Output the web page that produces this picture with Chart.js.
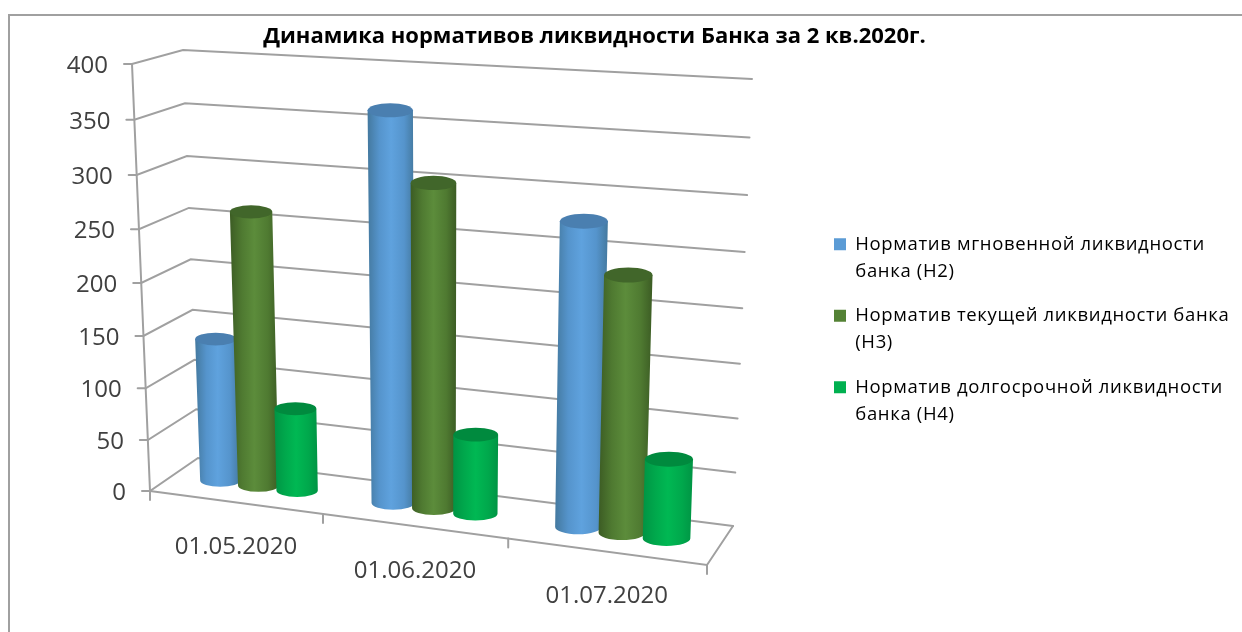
<!DOCTYPE html>
<html>
<head>
<meta charset="utf-8">
<style>
  html, body { margin: 0; background: #fff; }
  #wrap { position: relative; width: 1242px; height: 632px; overflow: hidden; }
  #frame { position: absolute; left: 8px; top: 14px; width: 1240px; height: 630px; border: 2px solid #a0a0a0; }
  canvas { position: absolute; left: 0; top: 0; }
</style>
<script src="https://cdn.jsdelivr.net/npm/chart.js@4/dist/chart.umd.js"></script>
</head>
<body>
<div id="wrap">
  <div id="frame"></div>
  <canvas id="chart" width="1242" height="632"></canvas>
</div>
<script>
  const categories = ["01.05.2020", "01.06.2020", "01.07.2020"];
  const valuesH2 = [139, 364, 278];
  const valuesH3 = [263, 302, 234];
  const valuesH4 = [80, 75, 73];
  const labelH2 = ["Норматив мгновенной ликвидности", "банка (Н2)"];
  const labelH3 = ["Норматив текущей ликвидности банка", "(Н3)"];
  const labelH4 = ["Норматив долгосрочной ликвидности", "банка (Н4)"];
  const titleText = "Динамика нормативов ликвидности Банка за 2 кв.2020г.";

  const fontFamily = "'Open Sans', sans-serif";
  const textColor = "#404040";
  const gridColor = "#a0a0a0";

  // corners of the 3D box as seen on the picture
  const box = {
    backBottomLeft: [198, 458], backTopLeft: [183, 50],
    backBottomRight: [733, 526], backTopRight: [752, 79],
    frontBottomLeft: [150, 491], frontTopLeft: [132, 64],
    frontBottomRight: [707, 565], frontTopRight: [722, 97],
  };
  const perspU = -0.099;
  const perspV = -0.05;

  function lerp(a, b, k) {
    return [a[0] + (b[0] - a[0]) * k, a[1] + (b[1] - a[1]) * k];
  }
  // u: along categories, v: along values, d: 0 = front, 1 = back
  function project(u, v, d) {
    const wu = u * (1 + perspU) / (1 + perspU * u);
    const wv = v * (1 + perspV) / (1 + perspV * v);
    const front = lerp(
      lerp(box.frontBottomLeft, box.frontBottomRight, wu),
      lerp(box.frontTopLeft, box.frontTopRight, wu), wv);
    const back = lerp(
      lerp(box.backBottomLeft, box.backBottomRight, wu),
      lerp(box.backTopLeft, box.backTopRight, wu), wv);
    return lerp(front, back, d);
  }

  function line(ctx, pts, color, width) {
    ctx.beginPath();
    pts.forEach((p, i) => (i ? ctx.lineTo(p[0], p[1]) : ctx.moveTo(p[0], p[1])));
    ctx.strokeStyle = color;
    ctx.lineWidth = width;
    ctx.stroke();
  }

  function drawCylinder(ctx, top, bottom, rxTop, rxBottom, colors) {
    const ryTop = rxTop * 0.31;
    const ryBottom = rxBottom * 0.31;
    const left = Math.min(top[0] - rxTop, bottom[0] - rxBottom);
    const right = Math.max(top[0] + rxTop, bottom[0] + rxBottom);
    const g = ctx.createLinearGradient(left, 0, right, 0);
    g.addColorStop(0, colors.edge);
    g.addColorStop(0.25, colors.side);
    g.addColorStop(0.5, colors.light);
    g.addColorStop(0.78, colors.side);
    g.addColorStop(1, colors.edge);
    ctx.beginPath();
    ctx.moveTo(top[0] - rxTop, top[1]);
    ctx.lineTo(bottom[0] - rxBottom, bottom[1]);
    ctx.ellipse(bottom[0], bottom[1], rxBottom, ryBottom, 0, Math.PI, 0, true);
    ctx.lineTo(top[0] + rxTop, top[1]);
    ctx.closePath();
    ctx.fillStyle = g;
    ctx.fill();
    ctx.beginPath();
    ctx.ellipse(top[0], top[1], rxTop, ryTop, 0, 0, Math.PI * 2);
    ctx.fillStyle = colors.top;
    ctx.fill();
  }

  const palette = [
    { legend: "#5b9bd5", top: "#4a7fb0", edge: "#44799f", side: "#5594cc", light: "#5fa2de" },
    { legend: "#548235", top: "#41662a", edge: "#3c5c24", side: "#4f7a31", light: "#5c8c3b" },
    { legend: "#00b050", top: "#008a3e", edge: "#009444", side: "#00a84c", light: "#00b853" },
  ];

  const box3d = {
    id: "box3d",
    afterLayout(chart) {
      // title and legend sit where the picture has them, not where the layout puts them
      const t = chart.titleBlock;
      t.left = 0;
      t.right = 1189;
      const lg = chart.legend;
      lg.left = 834 - lg.options.labels.padding;
      lg.top = 217.5;
      lg.bottom = 632;
      if (!lg.spaced) {
        // Calibri-like width from Open Sans
        const drawLegend = lg.draw.bind(lg);
        lg.draw = function () {
          chart.ctx.letterSpacing = "0.65px";
          drawLegend();
          chart.ctx.letterSpacing = "0px";
        };
        lg.spaced = true;
      }
    },
    beforeDatasetsDraw(chart) {
      const ctx = chart.ctx;
      const yScale = chart.scales.y;
      const xScale = chart.scales.x;
      ctx.save();
      ctx.lineCap = "round";
      // walls
      yScale.ticks.forEach((tick) => {
        const v = (tick.value - yScale.min) / (yScale.max - yScale.min);
        const a = project(0, v, 0);
        line(ctx, [[a[0] - 8, a[1]], a, project(0, v, 1), project(1, v, 1)], gridColor, 2);
      });
      // floor and axis lines
      line(ctx, [project(0, 0, 0), project(0, 1, 0)], gridColor, 2);
      line(ctx, [project(0, 0, 0), project(1, 0, 0), project(1, 0, 1)], gridColor, 2);
      const n = categories.length;
      for (let i = 0; i <= n; i++) {
        const p = project(i / n, 0, 0);
        line(ctx, [p, [p[0], p[1] + 9]], gridColor, 2);
      }
      // tick labels
      ctx.fillStyle = textColor;
      ctx.font = "24px " + fontFamily;
      ctx.textBaseline = "middle";
      ctx.textAlign = "right";
      yScale.ticks.forEach((tick) => {
        const v = (tick.value - yScale.min) / (yScale.max - yScale.min);
        const a = project(0, v, 0);
        ctx.fillText(tick.label, a[0] - 24, a[1] + 2);
      });
      ctx.textAlign = "center";
      categories.forEach((c, i) => {
        const u = (xScale.getPixelForValue(i) - chart.chartArea.left) / chart.chartArea.width;
        const p = project(u, 0, 0);
        ctx.fillText(xScale.getLabelForValue(i), p[0] + 1, p[1] + 45);
      });
      ctx.restore();
    },
    afterDatasetsDraw(chart) {
      const ctx = chart.ctx;
      const area = chart.chartArea;
      const n = categories.length;
      ctx.save();
      for (let c = 0; c < n; c++) {
        chart.data.datasets.forEach((ds, di) => {
          const bar = chart.getDatasetMeta(di).data[c];
          const u = (bar.x - area.left) / area.width + 0.002;
          const half = bar.width / 2 / area.width;
          const v = (area.bottom - bar.y) / area.height;
          const top = project(u, v, 0.5);
          const bottom = project(u, 0, 0.5);
          const rxTop = (project(u + half, v, 0.5)[0] - project(u - half, v, 0.5)[0]) / 2;
          const rxBottom = (project(u + half, 0, 0.5)[0] - project(u - half, 0, 0.5)[0]) / 2;
          drawCylinder(ctx, top, bottom, rxTop * 1.06, rxBottom * 1.06, palette[di]);
        });
      }
      ctx.restore();
    },
  };

  new Chart(document.getElementById("chart"), {
    type: "bar",
    data: {
      labels: categories,
      datasets: [
        { label: labelH2, data: valuesH2, backgroundColor: "rgba(0,0,0,0)", categoryPercentage: 0.68, barPercentage: 1 },
        { label: labelH3, data: valuesH3, backgroundColor: "rgba(0,0,0,0)", categoryPercentage: 0.68, barPercentage: 1 },
        { label: labelH4, data: valuesH4, backgroundColor: "rgba(0,0,0,0)", categoryPercentage: 0.68, barPercentage: 1 },
      ],
    },
    options: {
      responsive: false,
      animation: false,
      devicePixelRatio: 1,
      layout: { padding: { left: 150, right: 10, top: 0, bottom: 141 } },
      plugins: {
        tooltip: { enabled: false },
        title: {
          display: true,
          text: titleText,
          color: "#000000",
          font: { family: fontFamily, size: 22, weight: "bold" },
          padding: { top: 24, bottom: 10 },
        },
        legend: {
          position: "right",
          align: "start",
          maxWidth: 420,
          labels: {
            color: textColor,
            font: { family: fontFamily, size: 18.5, lineHeight: 1.46 },
            boxWidth: 12,
            boxHeight: 12,
            padding: 17.5,
            generateLabels: (chart) =>
              chart.data.datasets.map((ds, i) => ({
                text: ds.label,
                fillStyle: palette[i].legend,
                strokeStyle: palette[i].legend,
                lineWidth: 0,
                datasetIndex: i,
              })),
          },
        },
      },
      scales: {
        x: { grid: { display: false }, border: { display: false }, ticks: { display: false } },
        y: {
          min: 0,
          max: 400,
          grid: { display: false },
          border: { display: false },
          ticks: { display: false, stepSize: 50 },
        },
      },
    },
    plugins: [box3d],
  });
</script>
</body>
</html>
